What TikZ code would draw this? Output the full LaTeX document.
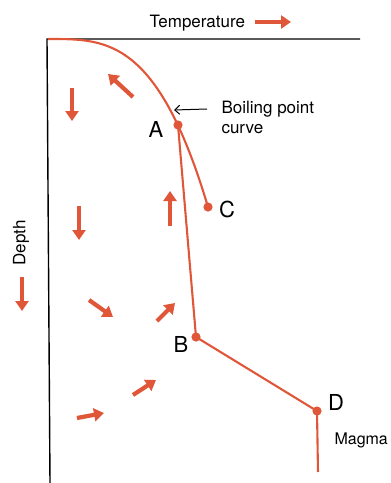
\documentclass[tikz,border=0pt]{standalone}
\usepackage{fontspec}
\setmainfont{TeX Gyre Heros}
\usetikzlibrary{arrows.meta}
\definecolor{lava}{RGB}{224,86,56}
\tikzset{
  flow/.style={lava,line width=4.2pt,-{Triangle[length=10pt,width=13pt]}},
  hot/.style={lava,line width=2.1pt},
  lbl/.style={font=\fontsize{17}{20}\selectfont,anchor=base west},
  pt/.style={font=\fontsize{22}{24}\selectfont,anchor=base}
}

\begin{document}
\begin{tikzpicture}[x=1pt,y=-1pt]
\useasboundingbox (0,0) rectangle (391,483);
% axes
\draw[line width=1.4pt] (360,39) -- (47,39) -- (50,483);
\node[lbl] (temp) at (146,27.5) {Temperature};
\coordinate (t0) at (255,22);
\coordinate (t1) at (291,22);
\draw[flow] (t0) -- (t1);
\node[lbl,rotate=90,anchor=center] (depth) at (21,243) {Depth};
\coordinate (d0) at (22,277);
\coordinate (d1) at (22,311);
\draw[flow] (d0) -- (d1);
% boiling point curve
\coordinate (A) at (178,125);
\coordinate (B) at (196,337);
\coordinate (C) at (208,207);
\coordinate (D) at (317,411);
\coordinate (E) at (318,472);
\draw[hot] (48,39) -- plot[domain=0.003:1,samples=80] ({48+160*\x},{39+168*pow(\x,3.2)});
\draw[hot] (A) -- (B) -- (D) -- (E);
\foreach \p in {A,B,C,D} \fill[lava] (\p) circle (4.6);
\node[pt] (la) at (156,137) {A};
\node[pt] (lb) at (181,352) {B};
\node[pt] (lc) at (227,217) {C};
\node[pt] (ld) at (336,410) {D};
\node[lbl] (bp) at (218,113) {Boiling point};
\node[lbl] (cv) at (218,133) {curve};
\node[lbl,font=\fontsize{16}{19}\selectfont] (mg) at (331,444) {Magma};
\coordinate (bp0) at (207,109);
\coordinate (bp1) at (174,110);
\draw[line width=1pt,-{Straight Barb[length=5pt,width=9pt]}] (bp0) -- (bp1);
% circulation
\foreach \xa/\ya/\xb/\yb in {72/88/72/121, 133/97/108/74, 79/206/79/240, 170/226/170/191,
                   89/300/113/317, 157/321/175/303, 133/395/156/380, 77/418/104/413}
  \draw[flow] (\xa,\ya) -- (\xb,\yb);
\end{tikzpicture}
\end{document}
